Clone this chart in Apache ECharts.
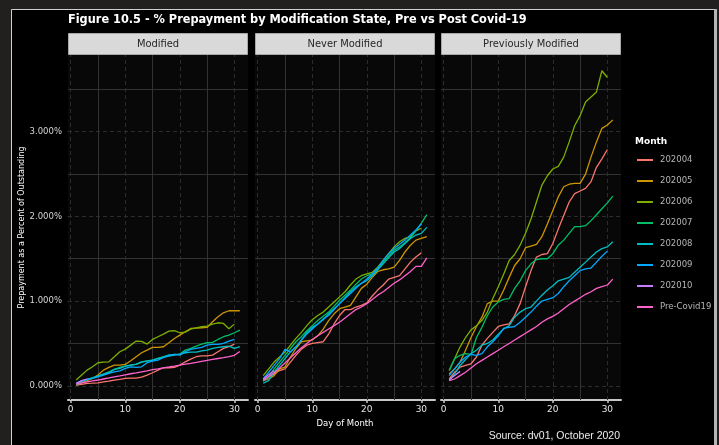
<!DOCTYPE html>
<html><head><meta charset="utf-8">
<script src="https://cdn.jsdelivr.net/npm/echarts@6/dist/echarts.min.js"></script>
<style>html,body{margin:0;padding:0;background:#221f1f}#c{width:719px;height:445px}</style>
</head><body><div id="c"></div>
<script>
const days = [1,2,3,4,5,6,7,8,9,10,11,12,13,14,15,16,17,18,19,20,21,22,23,24,25,26,27,28,29,30,31];
const panels = ['Modified', 'Never Modified', 'Previously Modified'];
const months = ['202004','202005','202006','202007','202008','202009','202010','Pre-Covid19'];
const colors = ['#F8766D','#CD9600','#7CAE00','#00BE67','#00BFC4','#00A9FF','#C77CFF','#FF61CC'];
const xTicks = [0,10,20,30];
const xMinor = [5,15,25];
const yTicks = [0,1,2,3];
const yMinor = [0.5,1.5,2.5,3.5];

// Modified
const mod_202004 = [0.008,0.016,0.028,0.031,0.035,0.047,0.055,0.067,0.075,0.087,0.091,0.091,0.102,0.126,0.154,0.185,0.213,0.213,0.217,0.244,0.283,0.315,0.343,0.354,0.354,0.362,0.402,0.441,0.461,0.492];
const mod_202005 = [0.008,0.035,0.059,0.087,0.126,0.185,0.217,0.244,0.244,0.252,0.295,0.343,0.390,0.421,0.453,0.453,0.461,0.508,0.559,0.598,0.638,0.677,0.681,0.685,0.689,0.756,0.815,0.862,0.886,0.886,0.886];
const mod_202006 = [0.067,0.126,0.185,0.224,0.272,0.280,0.283,0.343,0.402,0.433,0.480,0.528,0.524,0.492,0.547,0.579,0.610,0.646,0.650,0.626,0.634,0.669,0.685,0.697,0.705,0.728,0.744,0.736,0.673,0.728];
const mod_202007 = [0.020,0.047,0.075,0.094,0.114,0.138,0.165,0.193,0.217,0.232,0.244,0.252,0.280,0.291,0.303,0.323,0.343,0.362,0.370,0.374,0.421,0.441,0.469,0.492,0.508,0.512,0.547,0.579,0.598,0.626,0.657];
const mod_202008 = [0.008,0.055,0.075,0.094,0.114,0.138,0.154,0.193,0.205,0.232,0.244,0.256,0.283,0.295,0.303,0.323,0.335,0.350,0.362,0.374,0.390,0.398,0.398,0.413,0.421,0.441,0.453,0.461,0.469,0.441,0.461];
const mod_202009 = [0.028,0.059,0.075,0.087,0.106,0.126,0.146,0.165,0.177,0.205,0.224,0.217,0.224,0.272,0.291,0.303,0.335,0.362,0.370,0.362,0.402,0.429,0.441,0.453,0.480,0.488,0.488,0.500,0.528,0.547];
const mod_202010 = [0.03,0.06,0.08];
const mod_pre    = [0.020,0.035,0.045,0.057,0.068,0.080,0.092,0.105,0.117,0.130,0.142,0.153,0.165,0.177,0.190,0.200,0.212,0.222,0.233,0.245,0.255,0.265,0.276,0.288,0.300,0.311,0.322,0.333,0.345,0.360,0.405];

// Never Modified
const nev_202004 = [0.07,0.10,0.14,0.18,0.20,0.28,0.36,0.43,0.48,0.50,0.51,0.52,0.61,0.73,0.83,0.90,0.90,0.93,0.95,0.98,1.06,1.13,1.19,1.26,1.28,1.30,1.38,1.46,1.52,1.57];
const nev_202005 = [0.06,0.08,0.12,0.20,0.22,0.34,0.44,0.52,0.53,0.54,0.59,0.67,0.77,0.85,0.91,0.93,0.95,1.05,1.15,1.20,1.28,1.35,1.37,1.38,1.40,1.48,1.58,1.66,1.72,1.74,1.76];
const nev_202006 = [0.12,0.20,0.28,0.34,0.40,0.48,0.56,0.63,0.71,0.78,0.83,0.87,0.93,0.99,1.05,1.11,1.19,1.26,1.30,1.32,1.34,1.40,1.48,1.56,1.64,1.70,1.74,1.76,1.83,1.86];
const nev_202007 = [0.055,0.10,0.20,0.28,0.36,0.44,0.52,0.58,0.65,0.71,0.77,0.82,0.87,0.94,1.01,1.07,1.13,1.20,1.26,1.30,1.32,1.38,1.46,1.53,1.60,1.64,1.69,1.75,1.83,1.92,2.02];
const nev_202008 = [0.03,0.06,0.16,0.24,0.32,0.40,0.46,0.54,0.63,0.69,0.73,0.78,0.85,0.91,0.97,1.04,1.11,1.17,1.21,1.24,1.30,1.37,1.44,1.51,1.58,1.62,1.68,1.74,1.78,1.80,1.87];
const nev_202009 = [0.08,0.16,0.24,0.32,0.43,0.40,0.46,0.54,0.61,0.67,0.73,0.79,0.83,0.90,0.97,1.03,1.09,1.15,1.21,1.26,1.32,1.39,1.48,1.56,1.62,1.67,1.72,1.78,1.84,1.91];
const nev_202010 = [0.08,0.13,0.18];
const nev_pre    = [0.06,0.11,0.15,0.21,0.27,0.33,0.39,0.45,0.50,0.55,0.59,0.63,0.67,0.71,0.75,0.80,0.85,0.90,0.93,0.97,1.02,1.07,1.11,1.16,1.21,1.25,1.30,1.35,1.41,1.41,1.51];

// Previously Modified
const prv_202004 = [0.08,0.16,0.22,0.24,0.26,0.34,0.48,0.56,0.63,0.70,0.72,0.73,0.83,0.97,1.17,1.36,1.52,1.55,1.56,1.68,1.85,2.01,2.17,2.27,2.30,2.33,2.41,2.58,2.68,2.79];
const prv_202005 = [0.14,0.20,0.28,0.42,0.57,0.70,0.81,0.97,1.00,1.00,1.13,1.28,1.42,1.50,1.63,1.65,1.67,1.76,1.91,2.07,2.23,2.35,2.38,2.39,2.39,2.50,2.70,2.88,3.04,3.08,3.14];
const prv_202006 = [0.18,0.32,0.46,0.57,0.66,0.71,0.77,0.87,1.03,1.17,1.32,1.48,1.55,1.66,1.80,1.97,2.17,2.37,2.48,2.56,2.59,2.70,2.88,3.07,3.19,3.35,3.41,3.47,3.72,3.64];
const prv_202007 = [0.18,0.32,0.36,0.38,0.37,0.57,0.69,0.83,0.93,0.99,1.02,1.03,1.15,1.24,1.36,1.44,1.49,1.50,1.50,1.56,1.66,1.72,1.80,1.88,1.88,1.89,1.95,2.02,2.09,2.16,2.24];
const prv_202008 = [0.06,0.14,0.24,0.31,0.38,0.42,0.48,0.50,0.54,0.61,0.67,0.71,0.81,0.87,0.91,0.93,1.00,1.07,1.13,1.18,1.24,1.26,1.28,1.34,1.40,1.46,1.52,1.58,1.62,1.64,1.70];
const prv_202009 = [0.12,0.20,0.28,0.34,0.37,0.36,0.38,0.46,0.52,0.59,0.68,0.69,0.70,0.75,0.81,0.87,0.94,1.00,1.02,1.04,1.09,1.17,1.24,1.30,1.36,1.38,1.39,1.46,1.53,1.59];
const prv_202010 = [0.07,0.12,0.17];
const prv_pre    = [0.06,0.08,0.12,0.16,0.21,0.26,0.30,0.34,0.38,0.42,0.46,0.50,0.54,0.58,0.62,0.66,0.70,0.75,0.79,0.82,0.86,0.91,0.96,1.00,1.04,1.08,1.11,1.15,1.17,1.19,1.26];

const panelSeries = [
  [mod_202004, mod_202005, mod_202006, mod_202007, mod_202008, mod_202009, mod_202010, mod_pre],
  [nev_202004, nev_202005, nev_202006, nev_202007, nev_202008, nev_202009, nev_202010, nev_pre],
  [prv_202004, prv_202005, prv_202006, prv_202007, prv_202008, prv_202009, prv_202010, prv_pre]
];

// layout
const gridLefts = [68, 255, 441];
const gridW = 180, gridTop = 55, gridH = 345;
const stripTop = 33, stripH = 22;
const xMin = -0.5, xMax = 32.5, yMin = -0.168, yMax = 3.906;

const majorStyle = {color:'#2c2c2c', width:1, type:[4,3]};
const minorStyle = {color:'#333333', width:1, type:'solid'};
const tickFont = 'DejaVu Sans';
const narrowFont = '"DejaVu Sans Condensed", "Liberation Sans Narrow", sans-serif';

const chart = echarts.init(document.getElementById('c'), null, {renderer:'canvas'});

const grids = gridLefts.map(l => ({left:l, top:gridTop, width:gridW, height:gridH, show:true, backgroundColor:'#080808', borderWidth:0, containLabel:false}));

const xAxes = gridLefts.map((l, p) => ({
  type:'value', gridIndex:p, min:xMin, max:xMax,
  axisLine:{show:true, onZero:false, lineStyle:{color:'#c8c8c8', width:2}},
  axisTick:{show:true, customValues:xTicks, length:3, lineStyle:{color:'#c8c8c8', width:1.5}},
  axisLabel:{show:true, customValues:xTicks, color:'#e6e6e6', fontSize:9, fontFamily:tickFont, margin:5},
  splitLine:{show:false},
  name: p === 1 ? 'Day of Month' : '',
  nameLocation:'middle', nameGap:16,
  nameTextStyle:{color:'#ffffff', fontSize:8.5, fontFamily:tickFont}
}));

const yAxes = gridLefts.map((l, p) => ({
  type:'value', gridIndex:p, min:yMin, max:yMax,
  axisLine:{show:false},
  axisTick:{show:p === 0, customValues:yTicks, length:3, lineStyle:{color:'#555555'}},
  axisLabel:{show:p === 0, customValues:yTicks, color:'#d4d4d4', fontSize:8.5, fontFamily:tickFont, margin:6,
    formatter: v => v.toFixed(3) + '%'},
  splitLine:{show:false},
  name: p === 0 ? 'Prepayment as a Percent of Outstanding' : '',
  nameLocation:'middle', nameRotate:90, nameGap:40,
  nameTextStyle:{color:'#ffffff', fontSize:8, fontFamily:tickFont}
}));

const series = [];
panelSeries.forEach((arrs, p) => {
  series.push({
    type:'line', xAxisIndex:p, yAxisIndex:p, data:[], silent:true, animation:false, z:1,
    markLine:{
      silent:true, symbol:['none','none'], label:{show:false}, animation:false, z:1,
      emphasis:{disabled:true},
      data:[
        ...yTicks.map(v => ({yAxis:v, lineStyle:majorStyle})),
        ...yMinor.map(v => ({yAxis:v, lineStyle:minorStyle})),
        ...xTicks.map(v => ({xAxis:v, lineStyle:majorStyle})),
        ...xMinor.map(v => ({xAxis:v, lineStyle:minorStyle}))
      ]
    }
  });
  arrs.forEach((arr, s) => {
    series.push({
      type:'line', name:months[s], xAxisIndex:p, yAxisIndex:p,
      data: arr.map((v, i) => [days[i], v]),
      showSymbol:false, symbol:'none', silent:true, animation:false, z:3,
      lineStyle:{width:1.3, color:colors[s]}, itemStyle:{color:colors[s]},
      emphasis:{disabled:true}
    });
  });
});

const graphics = [
  {type:'rect', z:-100, shape:{x:11.5, y:9.5, width:704, height:440}, style:{fill:'#000000', stroke:'#cfcfcf', lineWidth:1}},
  {type:'rect', z:-99, shape:{x:714, y:9, width:3, height:436}, style:{fill:'#b5b5b5'}}
];
gridLefts.forEach((l, p) => {
  graphics.push({type:'rect', z:10, shape:{x:l + 0.5, y:stripTop + 0.5, width:gridW - 1, height:stripH - 1},
    style:{fill:'#d9d9d9', stroke:'#a8a8a8', lineWidth:1}});
  graphics.push({type:'text', z:11, x:l + gridW / 2, y:stripTop + stripH / 2,
    style:{text:panels[p], fill:'#262626', font:'11px ' + narrowFont,
      textAlign:'center', textVerticalAlign:'middle'}});
});

chart.setOption({
  backgroundColor:'#221f1f',
  animation:false,
  title:[
    {text:'Figure 10.5 - % Prepayment by Modification State, Pre vs Post Covid-19', left:68, top:13, padding:0,
      textStyle:{color:'#ffffff', fontSize:12.6, fontWeight:'bold', fontFamily:narrowFont}},
    {text:'Month', left:635, top:137, padding:0, textStyle:{color:'#ffffff', fontSize:9, fontWeight:'bold', fontFamily:tickFont}},
    {text:'Source: dv01, October 2020', right:99, top:431, padding:0,
      textStyle:{color:'#ececec', fontSize:10.5, fontWeight:'normal', fontFamily:'"Liberation Sans", Arial, sans-serif'}}
  ],
  legend:{
    orient:'vertical', left:637, top:154, padding:0, icon:'rect', itemWidth:16, itemHeight:2, itemGap:9,
    data: months.map(m => ({name:m})),
    textStyle:{color:'#b5b5b5', fontSize:8.5, fontFamily:tickFont, lineHeight:12, padding:[0,0,0,2]},
    selectedMode:false
  },
  grid:grids,
  xAxis:xAxes,
  yAxis:yAxes,
  series:series,
  graphic:graphics
});
</script></body></html>
